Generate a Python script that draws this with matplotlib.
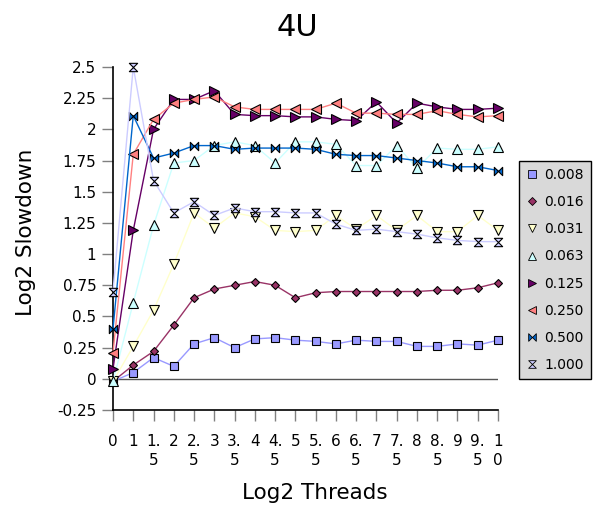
import matplotlib
matplotlib.use('Agg')
import matplotlib.pyplot as plt
from matplotlib.lines import Line2D
from matplotlib.path import Path

x_labels = ['0', '1', '1.5', '2', '2.5', '3', '3.5', '4', '4.5', '5', '5.5',
            '6', '6.5', '7', '7.5', '8', '8.5', '9', '9.5', '10']

names = ['0.008', '0.016', '0.031', '0.063', '0.125', '0.250', '0.500', '1.000']

s_0008 = [-0.02, 0.05, 0.17, 0.10, 0.28, 0.33, 0.25, 0.32, 0.33, 0.31,
          0.30, 0.28, 0.31, 0.30, 0.30, 0.26, 0.26, 0.28, 0.27, 0.31]
s_0016 = [-0.02, 0.11, 0.22, 0.43, 0.65, 0.72, 0.75, 0.78, 0.75, 0.65,
          0.69, 0.70, 0.70, 0.70, 0.70, 0.70, 0.71, 0.71, 0.73, 0.77]
s_0031 = [-0.02, 0.26, 0.55, 0.92, 1.33, 1.21, 1.33, 1.30, 1.19, 1.18,
          1.19, 1.31, 1.20, 1.31, 1.19, 1.31, 1.18, 1.18, 1.31, 1.19]
s_0063 = [-0.02, 0.61, 1.23, 1.73, 1.75, 1.87, 1.90, 1.87, 1.73, 1.90,
          1.90, 1.88, 1.71, 1.71, 1.87, 1.69, 1.85, 1.84, 1.84, 1.86]
s_0125 = [0.08, 1.19, 2.00, 2.24, 2.24, 2.31, 2.12, 2.11, 2.11, 2.10,
          2.10, 2.08, 2.07, 2.22, 2.05, 2.21, 2.18, 2.16, 2.16, 2.17]
s_0250 = [0.21, 1.80, 2.08, 2.21, 2.24, 2.26, 2.18, 2.16, 2.16, 2.16,
          2.16, 2.21, 2.13, 2.13, 2.12, 2.12, 2.15, 2.12, 2.10, 2.11]
s_0500 = [0.40, 2.11, 1.77, 1.81, 1.87, 1.87, 1.84, 1.85, 1.85, 1.85,
          1.84, 1.80, 1.79, 1.79, 1.77, 1.75, 1.73, 1.70, 1.70, 1.67]
s_1000 = [0.70, 2.50, 1.59, 1.33, 1.42, 1.31, 1.37, 1.34, 1.34, 1.33,
          1.33, 1.24, 1.19, 1.20, 1.18, 1.16, 1.13, 1.11, 1.10, 1.10]

y_ticks = [-0.25, 0, 0.25, 0.5, 0.75, 1, 1.25, 1.5, 1.75, 2, 2.25, 2.5]

# excel 2003 chart palette
colors = ['#9999FF', '#993366', '#FFFFCC', '#CCFFFF', '#660066', '#FF8080', '#0066CC', '#CCCCFF']

bowtie = Path([(-1, 1), (0, 0), (1, 1), (1, -1), (0, 0), (-1, -1), (-1, 1)],
              [Path.MOVETO] + [Path.LINETO] * 5 + [Path.CLOSEPOLY])
hourglass = Path([(-1, 1), (1, 1), (0, 0), (1, -1), (-1, -1), (0, 0), (-1, 1)],
                 [Path.MOVETO] + [Path.LINETO] * 5 + [Path.CLOSEPOLY])
markers = ['s', 'D', 'v', '^', '>', '<', bowtie, hourglass]
msizes = [6, 4.5, 6.5, 6.5, 6.5, 6.5, 6, 6]

series = [s_0008, s_0016, s_0031, s_0063, s_0125, s_0250, s_0500, s_1000]


def main():
    fig = plt.figure(figsize=(5.98, 5.12), dpi=100)
    ax = fig.add_axes([113 / 598, 1 - 410 / 512, 385 / 598, 343 / 512])

    xs = list(range(len(x_labels)))
    ax.axhline(0, color='#555555', linewidth=1, zorder=1)

    handles = []
    for name, ys, c, m, ms in zip(names, series, colors, markers, msizes):
        ax.plot(xs, ys, color=c, linewidth=1, marker=m, markersize=ms,
                markerfacecolor=c, markeredgecolor='black', markeredgewidth=0.8,
                zorder=3, clip_on=False)
        handles.append(Line2D([], [], linestyle='none', marker=m, markersize=ms - 0.5,
                              markerfacecolor=c, markeredgecolor='black', markeredgewidth=0.6,
                              label=name))

    ax.set_xlim(0, len(x_labels) - 1)
    ax.set_ylim(-0.25, 2.5)
    ax.set_xticks(xs)
    wrapped = [lab if len(lab) < 3 and lab != '10' else lab[:-1] + '\n' + lab[-1] for lab in x_labels]
    ax.set_xticklabels(wrapped, fontsize=11, linespacing=1.4)
    ax.set_yticks(y_ticks)
    ax.set_yticklabels(['{:g}'.format(v) for v in y_ticks], fontsize=11)
    ax.tick_params(axis='both', length=8, width=1, color='#808080', pad=4)
    ax.tick_params(axis='x', pad=9)

    for side in ('top', 'right'):
        ax.spines[side].set_visible(False)
    for side in ('left', 'bottom'):
        ax.spines[side].set_color('black')
        ax.spines[side].set_linewidth(1.2)

    fig.text(297 / 598, 1 - 27 / 512, '4U', fontsize=22, ha='center', va='center')
    fig.text(315 / 598, 1 - 493 / 512, 'Log2 Threads', fontsize=15.5, ha='center', va='center')
    fig.text(26 / 598, 1 - 232 / 512, 'Log2 Slowdown', fontsize=15.5, ha='center', va='center',
             rotation=90)

    leg = fig.legend(handles=handles, loc='center left', bbox_to_anchor=(519 / 598, 1 - 270 / 512),
                     fontsize=10, frameon=True, fancybox=False, framealpha=1,
                     facecolor='#D9D9D9', edgecolor='black', handlelength=0.8,
                     handletextpad=0.5, labelspacing=0.95, borderpad=0.5, borderaxespad=0)
    leg.get_frame().set_linewidth(1)

    plt.savefig('out.png', dpi=100)


if __name__ == '__main__':
    main()
